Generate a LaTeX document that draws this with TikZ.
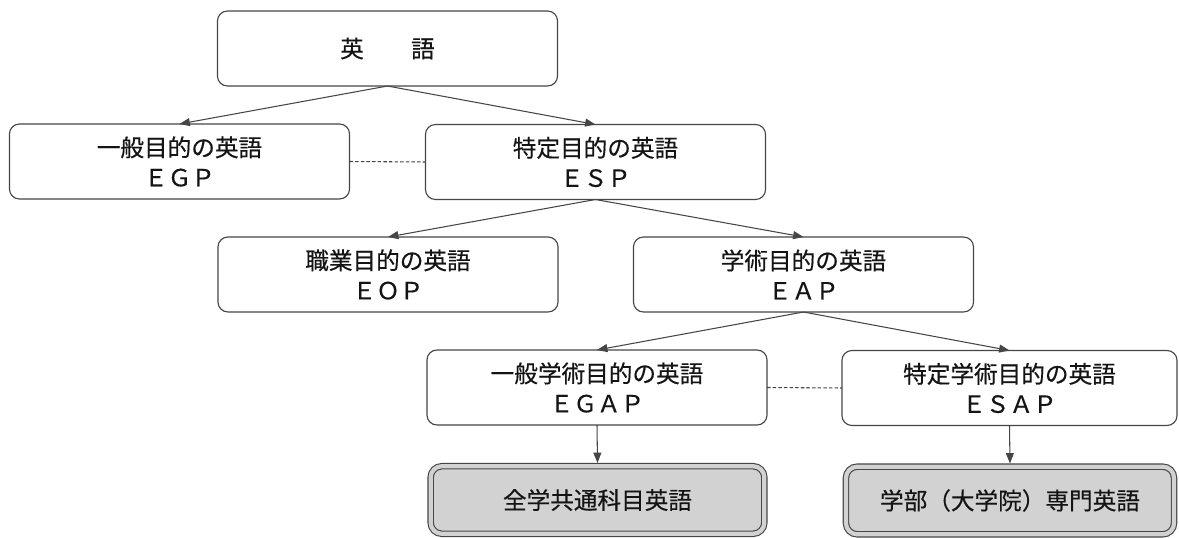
\documentclass[tikz,border=0pt]{standalone}
\usepackage{fontspec}
\newfontfamily\jp[FakeBold=0.4]{Noto Sans CJK JP}
\usetikzlibrary{arrows.meta}
\definecolor{edge}{RGB}{70,70,70}
\definecolor{ink}{RGB}{20,20,20}
\definecolor{shade}{RGB}{210,210,210}
\begin{document}
\begin{tikzpicture}[x=0.025cm,y=-0.025cm,
  box/.style={draw=edge, line width=0.8pt, rounded corners=0.25cm,
    minimum width=8.5cm, minimum height=1.875cm, inner sep=0pt, outer sep=0pt,
    align=center, text=ink, font=\jp\fontsize{16.8pt}{21.3pt}\selectfont},
  gbox/.style={box, fill=shade, double=shade, double distance=3pt,
    minimum width=8.34cm, minimum height=1.69cm, outer sep=2.3pt, rounded corners=0.28cm},
  link/.style={draw=edge, line width=0.75pt, -{Triangle[length=0.26cm,width=0.2cm]}},
  dots/.style={draw=edge, line width=0.75pt, dash pattern=on 2.5pt off 1.5pt}]
\fill[white] (0,0) rectangle (1179,538);
\useasboundingbox (0,0) rectangle (1179,538);
\node[box] (top) at (387.5,48.5) {英　　語};
\node[box] (egp) at (179.5,161.5) {一般目的の英語\\ＥＧＰ};
\node[box] (esp) at (595.5,162) {特定目的の英語\\ＥＳＰ};
\node[box] (eop) at (388,274.5) {職業目的の英語\\ＥＯＰ};
\node[box] (eap) at (803.5,274.5) {学術目的の英語\\ＥＡＰ};
\node[box] (egap) at (597,387.5) {一般学術目的の英語\\ＥＧＡＰ};
\node[box, minimum width=8.375cm] (esap) at (1009.5,388) {特定学術目的の英語\\ＥＳＡＰ};
\node[gbox] (g1) at (597.5,500) {全学共通科目英語};
\node[gbox, minimum width=8.2cm] (g2) at (1010,500.5) {学部（大学院）専門英語};
\draw[link] (top.south) -- (egp.north);
\draw[link] (top.south) -- (esp.north);
\draw[link] (esp.south) -- (eop.north);
\draw[link] (esp.south) -- (eap.north);
\draw[link] (eap.south) -- (egap.north);
\draw[link] (eap.south) -- (esap.north);
\draw[link] (egap.south) -- (g1.north);
\draw[link] (esap.south) -- (g2.north);
\draw[dots] (egp.east) -- (esp.west);
\draw[dots] (egap.east) -- (esap.west);
\end{tikzpicture}
\end{document}
